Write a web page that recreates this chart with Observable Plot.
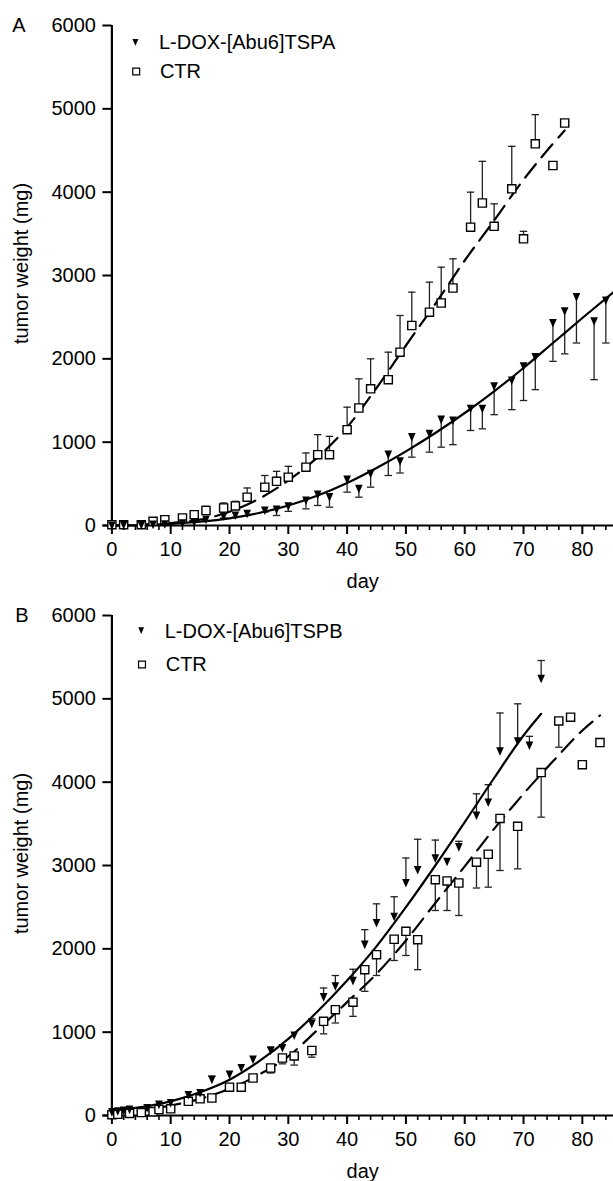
<!DOCTYPE html>
<html><head><meta charset="utf-8">
<script src="https://cdn.jsdelivr.net/npm/d3@7"></script>
<script src="https://cdn.jsdelivr.net/npm/@observablehq/plot@0.6"></script>
<style>body{margin:0;background:#fff} #chart svg{display:block;background:#fff}</style>
</head><body><div id="chart"></div>
<script>
// ---------- Axis ticks ----------
const xTicksMajor = [0,10,20,30,40,50,60,70,80];
const xTicksMinor = [2,4,6,8,12,14,16,18,22,24,26,28,32,34,36,38,42,44,46,48,52,54,56,58,62,64,66,68,72,74,76,78,82,84];
const yTicks = [0,1000,2000,3000,4000,5000,6000];

// ---------- Panel A: L-DOX-[Abu6]TSPA (mean, lower SD) ----------
const daysAT = [0,2,5,7,9,12,14,16,19,21,23,26,28,30,33,35,37,40,42,44,47,49,51,54,56,58,61,63,65,68,70,72,75,77,79,82,84];
const valsAT = [0,5,5,10,15,25,40,70,110,120,140,180,190,230,300,370,340,550,440,620,850,770,1060,1100,1270,1260,1400,1400,1670,1740,1910,2020,2430,2570,2740,2450,2700];
const sdAT   = [0,0,0,0,0,0,0,10,20,20,20,20,70,60,100,130,120,150,100,160,250,140,240,220,330,290,260,240,340,350,410,390,460,510,550,700,510];
// Panel A: CTR (mean, upper SD)
const daysAC = [0,2,5,7,9,12,14,16,19,21,23,26,28,30,33,35,37,40,42,44,47,49,51,54,56,58,61,63,65,68,70,72,75,77];
const valsAC = [10,10,10,50,70,90,130,180,210,235,340,460,530,580,700,850,850,1150,1410,1640,1750,2080,2400,2560,2670,2850,3580,3870,3590,4040,3440,4580,4320,4830];
const sdAC   = [0,0,0,15,15,10,30,50,60,55,110,140,120,130,170,240,220,270,350,360,330,440,400,360,430,350,420,500,270,510,90,350,0,0];
// Panel A fitted curves
const fitDaysAT = [0,5,10,15,20,25,30,35,40,45,50,55,60,65,70,75,80,85.3];
const fitValsAT = [0,5,20,45,85,150,240,360,510,690,890,1110,1350,1610,1890,2190,2490,2800];
const fitDaysAC = [0,5,10,15,20,25,30,35,40,45,50,55,60,65,70,75,77];
const fitValsAC = [0,10,30,70,165,320,540,820,1180,1650,2160,2660,3180,3660,4150,4580,4740];

// ---------- Panel B: L-DOX-[Abu6]TSPB (mean, upper SD) ----------
const daysBT = [0,1,2,3,6,8,10,13,15,17,20,22,24,27,29,31,34,36,38,41,43,45,48,50,52,55,57,59,62,64,66,69,71,73];
const valsBT = [40,50,60,70,90,130,150,245,270,430,490,570,670,780,810,960,1100,1420,1550,1615,2050,2310,2385,2790,2945,3085,3045,3220,3600,3755,4370,4490,4440,5240];
const sdBT   = [0,0,0,0,0,0,0,0,0,40,0,0,0,40,0,0,60,110,130,140,180,230,240,300,370,220,0,70,260,215,460,450,110,220];
// Panel B: CTR (mean, lower SD)
const daysBC = [0,1,3,5,7,8,10,13,15,17,20,22,24,27,29,31,34,36,38,41,43,45,48,50,52,55,57,59,62,64,66,69,73,76,78,80,83];
const valsBC = [10,15,25,35,45,72,80,170,200,210,340,340,450,570,690,715,780,1130,1270,1360,1750,1930,2115,2210,2110,2830,2815,2790,3040,3135,3565,3470,4115,4735,4780,4210,4475];
const sdBC   = [0,0,0,0,0,0,0,0,0,0,40,50,0,60,70,110,80,150,160,170,260,250,255,290,360,370,355,390,310,395,625,510,535,315,0,0,0];
// Panel B fitted curves
const fitDaysBT = [0,5,10,15,20,25,30,35,40,45,50,55,60,65,70,73];
const fitValsBT = [60,100,170,280,430,650,920,1250,1620,2030,2500,3000,3520,4050,4560,4820];
const fitDaysBC = [0,5,10,15,20,25,30,35,40,45,50,55,60,65,70,75,80,83];
const fitValsBC = [30,60,120,200,320,490,710,1030,1360,1700,2100,2550,2990,3440,3860,4250,4620,4800];

// ---------- helpers ----------
const rows = (d, v, s) => d.map((day, i) => ({day, v: v[i], sd: s[i]}));
const fitRows = (d, v) => d.map((day, i) => ({day, v: v[i]}));

const triDown = {draw(ctx, size) {
  const r = Math.sqrt(size / Math.PI);
  ctx.moveTo(-0.85 * r, -0.9 * r); ctx.lineTo(0.85 * r, -0.9 * r); ctx.lineTo(0, r); ctx.closePath();
}};
const hCap = {draw(ctx, size) {
  const r = Math.sqrt(size / Math.PI);
  ctx.moveTo(-r, 0); ctx.lineTo(r, 0);
}};

const FONT = "'Liberation Sans', Arial, Helvetica, sans-serif";

function panel(o) {
  const tri = rows(o.tDays, o.tVals, o.tSd);
  const ctr = rows(o.cDays, o.cVals, o.cSd);
  const triBars = tri.filter(d => d.sd > 0);
  const ctrBars = ctr.filter(d => d.sd > 0);
  const barColor = "#222";
  return Plot.plot({
    width: 613, height: o.height,
    marginLeft: 111.4, marginRight: 0, marginTop: 25, marginBottom: o.height - 525,
    x: {domain: [0, 85.3]},
    y: {domain: [0, 6000]},
    style: {fontFamily: FONT, fontSize: "20px", color: "black", background: "white", overflow: "visible"},
    marks: [
      // axes
      Plot.axisX({ticks: xTicksMinor, tickSize: 5, text: null, strokeWidth: 1.6, label: null}),
      Plot.axisX({ticks: xTicksMajor, tickSize: 9, tickPadding: 7, tickFormat: "d", strokeWidth: 2, fontSize: 20, label: null}),
      Plot.axisY({ticks: yTicks, tickSize: 9, tickPadding: 7, tickFormat: "d", strokeWidth: 2, fontSize: 20, label: null}),
      Plot.ruleY([0], {stroke: "black", strokeWidth: 2.2, insetLeft: -9}),
      Plot.ruleX([0], {stroke: "black", strokeWidth: 2.2}),
      // error bars
      Plot.ruleX(triBars, {x: "day", y1: "v", y2: d => d.v + o.tDir * d.sd, stroke: barColor, strokeWidth: 1.3}),
      Plot.dot(triBars, {x: "day", y: d => d.v + o.tDir * d.sd, symbol: hCap, r: 3.7, stroke: barColor, strokeWidth: 1.3, fill: "none"}),
      Plot.ruleX(ctrBars, {x: "day", y1: "v", y2: d => d.v + o.cDir * d.sd, stroke: barColor, strokeWidth: 1.3}),
      Plot.dot(ctrBars, {x: "day", y: d => d.v + o.cDir * d.sd, symbol: hCap, r: 3.7, stroke: barColor, strokeWidth: 1.3, fill: "none"}),
      // fitted curves
      Plot.line(fitRows(o.ftDays, o.ftVals), {x: "day", y: "v", curve: "monotone-x", stroke: "black", strokeWidth: 2.2}),
      Plot.line(fitRows(o.fcDays, o.fcVals), {x: "day", y: "v", curve: "monotone-x", stroke: "black", strokeWidth: 2.2, strokeDasharray: "17,9"}),
      // points
      Plot.dot(ctr, {x: "day", y: "v", symbol: "square", r: 4.6, fill: "white", stroke: "black", strokeWidth: 1.4}),
      Plot.dot(tri, {x: "day", y: "v", symbol: triDown, r: 4.5, fill: "black", stroke: "none"}),
      // legend
      Plot.dot([o.tName], {frameAnchor: "top-left", dx: o.lgX, dy: o.lgY1, symbol: triDown, r: 3.5, fill: "black", stroke: "none"}),
      Plot.text([o.tName], {frameAnchor: "top-left", dx: o.lgX + 23.5, dy: o.lgY1 + 0.6, text: d => d, textAnchor: "start", lineAnchor: "middle", fontSize: 20}),
      Plot.dot(["CTR"], {frameAnchor: "top-left", dx: o.lgX + 0.8, dy: o.lgY2, symbol: "square", r: 3.9, fill: "white", stroke: "black", strokeWidth: 1.2}),
      Plot.text(["CTR"], {frameAnchor: "top-left", dx: o.lgX + 24.5, dy: o.lgY2, text: d => d, textAnchor: "start", lineAnchor: "middle", fontSize: 20}),
      // labels
      Plot.text([o.letter], {frameAnchor: "top-left", dx: o.letterDx, dy: 0, text: d => d, textAnchor: "middle", lineAnchor: "middle", fontSize: 20}),
      Plot.text(["tumor weight (mg)"], {frameAnchor: "left", dx: -90.4, dy: -12, rotate: -90, text: d => d, textAnchor: "middle", lineAnchor: "middle", fontSize: 20}),
      Plot.text(["day"], {frameAnchor: "bottom", dy: 56, text: d => d, textAnchor: "middle", lineAnchor: "middle", fontSize: 20})
    ]
  });
}

const chart = document.getElementById("chart");
chart.append(panel({
  height: 590, letter: "A", letterDx: -93,
  tName: "L-DOX-[Abu6]TSPA", lgX: 23.5, lgY1: 16.7, lgY2: 46,
  tDays: daysAT, tVals: valsAT, tSd: sdAT, tDir: -1,
  cDays: daysAC, cVals: valsAC, cSd: sdAC, cDir: 1,
  ftDays: fitDaysAT, ftVals: fitValsAT, fcDays: fitDaysAC, fcVals: fitValsAC
}));
chart.append(panel({
  height: 591, letter: "B", letterDx: -90,
  tName: "L-DOX-[Abu6]TSPB", lgX: 29.3, lgY1: 15, lgY2: 49,
  tDays: daysBT, tVals: valsBT, tSd: sdBT, tDir: 1,
  cDays: daysBC, cVals: valsBC, cSd: sdBC, cDir: -1,
  ftDays: fitDaysBT, ftVals: fitValsBT, fcDays: fitDaysBC, fcVals: fitValsBC
}));
</script>
</body></html>
